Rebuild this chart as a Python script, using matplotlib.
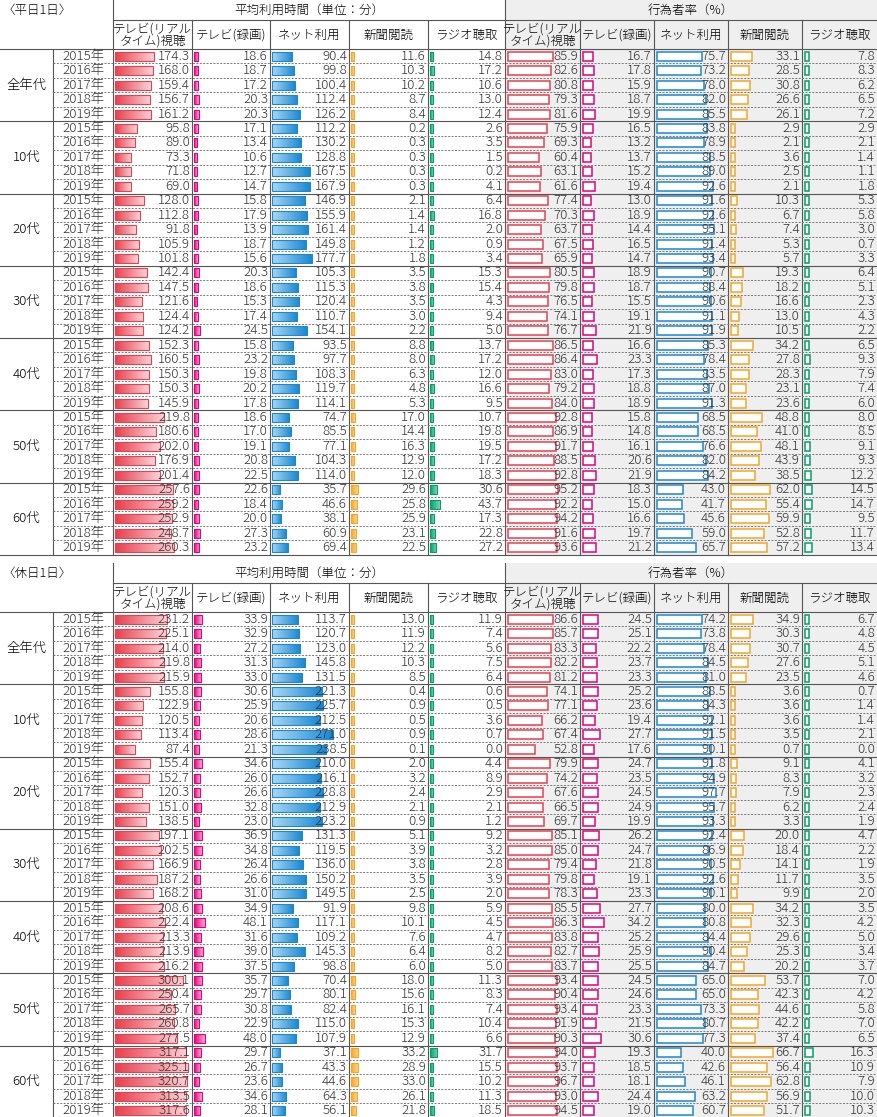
import matplotlib
matplotlib.use("Agg")
import matplotlib.pyplot as plt
import numpy as np
from matplotlib.colors import LinearSegmentedColormap

plt.rcParams["font.family"] = "Noto Sans CJK JP"
plt.rcParams["font.weight"] = 300

ages = ["全年代", "10代", "20代", "30代", "40代", "50代", "60代"]
years = ["2015年", "2016年", "2017年", "2018年", "2019年"]
metrics = ["テレビ(リアル\nタイム)視聴", "テレビ(録画)", "ネット利用", "新聞閲読", "ラジオ聴取"]

weekday_time = [
    [174.3,18.6,90.4,11.6,14.8],[168.0,18.7,99.8,10.3,17.2],[159.4,17.2,100.4,10.2,10.6],[156.7,20.3,112.4,8.7,13.0],[161.2,20.3,126.2,8.4,12.4],
    [95.8,17.1,112.2,0.2,2.6],[89.0,13.4,130.2,0.3,3.5],[73.3,10.6,128.8,0.3,1.5],[71.8,12.7,167.5,0.3,0.2],[69.0,14.7,167.9,0.3,4.1],
    [128.0,15.8,146.9,2.1,6.4],[112.8,17.9,155.9,1.4,16.8],[91.8,13.9,161.4,1.4,2.0],[105.9,18.7,149.8,1.2,0.9],[101.8,15.6,177.7,1.8,3.4],
    [142.4,20.3,105.3,3.5,15.3],[147.5,18.6,115.3,3.8,15.4],[121.6,15.3,120.4,3.5,4.3],[124.4,17.4,110.7,3.0,9.4],[124.2,24.5,154.1,2.2,5.0],
    [152.3,15.8,93.5,8.8,13.7],[160.5,23.2,97.7,8.0,17.2],[150.3,19.8,108.3,6.3,12.0],[150.3,20.2,119.7,4.8,16.6],[145.9,17.8,114.1,5.3,9.5],
    [219.8,18.6,74.7,17.0,10.7],[180.6,17.0,85.5,14.4,19.8],[202.0,19.1,77.1,16.3,19.5],[176.9,20.8,104.3,12.9,17.2],[201.4,22.5,114.0,12.0,18.3],
    [257.6,22.6,35.7,29.6,30.6],[259.2,18.4,46.6,25.8,43.7],[252.9,20.0,38.1,25.9,17.3],[248.7,27.3,60.9,23.1,22.8],[260.3,23.2,69.4,22.5,27.2],
]
weekday_rate = [
    [85.9,16.7,75.7,33.1,7.8],[82.6,17.8,73.2,28.5,8.3],[80.8,15.9,78.0,30.8,6.2],[79.3,18.7,82.0,26.6,6.5],[81.6,19.9,85.5,26.1,7.2],
    [75.9,16.5,83.8,2.9,2.9],[69.3,13.2,78.9,2.1,2.1],[60.4,13.7,88.5,3.6,1.4],[63.1,15.2,89.0,2.5,1.1],[61.6,19.4,92.6,2.1,1.8],
    [77.4,13.0,91.6,10.3,5.3],[70.3,18.9,92.6,6.7,5.8],[63.7,14.4,95.1,7.4,3.0],[67.5,16.5,91.4,5.3,0.7],[65.9,14.7,93.4,5.7,3.3],
    [80.5,18.9,90.7,19.3,6.4],[79.8,18.7,88.4,18.2,5.1],[76.5,15.5,90.6,16.6,2.3],[74.1,19.1,91.1,13.0,4.3],[76.7,21.9,91.9,10.5,2.2],
    [86.5,16.6,85.3,34.2,6.5],[86.4,23.3,78.4,27.8,9.3],[83.0,17.3,83.5,28.3,7.9],[79.2,18.8,87.0,23.1,7.4],[84.0,18.9,91.3,23.6,6.0],
    [92.8,15.8,68.5,48.8,8.0],[86.9,14.8,68.5,41.0,8.5],[91.7,16.1,76.6,48.1,9.1],[88.5,20.6,82.0,43.9,9.3],[92.8,21.9,84.2,38.5,12.2],
    [95.2,18.3,43.0,62.0,14.5],[92.2,15.0,41.7,55.4,14.7],[94.2,16.6,45.6,59.9,9.5],[91.6,19.7,59.0,52.8,11.7],[93.6,21.2,65.7,57.2,13.4],
]
holiday_time = [
    [231.2,33.9,113.7,13.0,11.9],[225.1,32.9,120.7,11.9,7.4],[214.0,27.2,123.0,12.2,5.6],[219.8,31.3,145.8,10.3,7.5],[215.9,33.0,131.5,8.5,6.4],
    [155.8,30.6,221.3,0.4,0.6],[122.9,25.9,225.7,0.9,0.5],[120.5,20.6,212.5,0.5,3.6],[113.4,28.6,271.0,0.9,0.7],[87.4,21.3,238.5,0.1,0.0],
    [155.4,34.6,210.0,2.0,4.4],[152.7,26.0,216.1,3.2,8.9],[120.3,26.6,228.8,2.4,2.9],[151.0,32.8,212.9,2.1,2.1],[138.5,23.0,223.2,0.9,1.2],
    [197.1,36.9,131.3,5.1,9.2],[202.5,34.8,119.5,3.9,3.2],[166.9,26.4,136.0,3.8,2.8],[187.2,26.6,150.2,3.5,3.9],[168.2,31.0,149.5,2.5,2.0],
    [208.6,34.9,91.9,9.8,5.9],[222.4,48.1,117.1,10.1,4.5],[213.3,31.6,109.2,7.6,4.7],[213.9,39.0,145.3,6.4,8.2],[216.2,37.5,98.8,6.0,5.0],
    [300.1,35.7,70.4,18.0,11.3],[250.4,29.7,80.1,15.6,8.3],[265.7,30.8,82.4,16.1,7.4],[260.8,22.9,115.0,15.3,10.4],[277.5,48.0,107.9,12.9,6.6],
    [317.1,29.7,37.1,33.2,31.7],[325.1,26.7,43.3,28.9,15.5],[320.7,23.6,44.6,33.0,10.2],[313.5,34.6,64.3,26.1,11.3],[317.6,28.1,56.1,21.8,18.5],
]
holiday_rate = [
    [86.6,24.5,74.2,34.9,6.7],[85.7,25.1,73.8,30.3,4.8],[83.3,22.2,78.4,30.7,4.5],[82.2,23.7,84.5,27.6,5.1],[81.2,23.3,81.0,23.5,4.6],
    [74.1,25.2,88.5,3.6,0.7],[77.1,23.6,84.3,3.6,1.4],[66.2,19.4,92.1,3.6,1.4],[67.4,27.7,91.5,3.5,2.1],[52.8,17.6,90.1,0.7,0.0],
    [79.9,24.7,91.8,9.1,4.1],[74.2,23.5,94.9,8.3,3.2],[67.6,24.5,97.7,7.9,2.3],[66.5,24.9,95.7,6.2,2.4],[69.7,19.9,93.3,3.3,1.9],
    [85.1,26.2,92.4,20.0,4.7],[85.0,24.7,86.9,18.4,2.2],[79.4,21.8,90.5,14.1,1.9],[79.8,19.1,92.6,11.7,3.5],[78.3,23.3,90.1,9.9,2.0],
    [85.5,27.7,80.0,34.2,3.5],[86.3,34.2,80.8,32.3,4.2],[83.8,25.2,84.4,29.6,5.0],[82.7,25.9,90.4,25.3,3.4],[83.7,25.5,84.7,20.2,3.7],
    [93.4,24.5,65.0,53.7,7.0],[90.4,24.6,65.0,42.3,4.2],[93.4,23.3,73.3,44.6,5.8],[91.9,21.5,80.7,42.2,7.0],[90.3,30.6,77.3,37.4,6.5],
    [94.0,19.3,40.0,66.7,16.3],[93.7,18.5,42.6,56.4,10.9],[96.7,18.1,46.1,62.8,7.9],[93.0,24.4,63.2,56.9,10.0],[94.5,19.0,60.7,51.7,10.3],
]

colors = ["#e8404f", "#e4007f", "#1b88d2", "#f5a623", "#00a06a"]
light = ["#fbd3d8", "#f7a6cf", "#a9d8f5", "#fbd48a", "#7fd2b3"]
X = [0, 53, 113, 192, 270, 349, 428, 505, 580, 654, 728, 802, 877]
TSCALE = 0.225
RSCALE = [0.52, 0.6, 0.6, 0.63, 0.5]
ROWH = 14.45
FS = 9.6
HFS = 9.0
LC = "#555555"

fig = plt.figure(figsize=(8.77, 11.17), dpi=100)
ax = fig.add_axes([0, 0, 1, 1])
ax.axis("off")


def panel(y0, title, tdata, rdata):
    yh = y0 + 20
    yd = y0 + 49
    yend = yd + 35 * ROWH
    ax.add_patch(plt.Rectangle((X[7], y0), X[12] - X[7], yend - y0, fc="#efefef", ec="none", zorder=0))
    ax.text(2, y0 + 10, title, fontsize=HFS, va="center", ha="left")
    ax.text((X[2] + X[7]) / 2, y0 + 10, "平均利用時間（単位：分）", fontsize=HFS, ha="center", va="center")
    ax.text((X[7] + X[12]) / 2, y0 + 10, "行為者率（%）", fontsize=HFS, ha="center", va="center")
    ax.plot([X[2], X[12]], [yh, yh], color=LC, lw=0.8)
    ax.plot([0, X[12]], [yd, yd], color=LC, lw=0.8)
    ax.plot([0, X[12]], [yend, yend], color=LC, lw=0.8)
    ax.plot([X[2], X[2]], [y0, yend], color=LC, lw=0.8)
    ax.plot([X[7], X[7]], [y0, yend], color=LC, lw=0.8)
    for k in range(10):
        xc = (X[2 + k] + X[3 + k]) / 2
        ax.text(xc, (yh + yd) / 2 + 0.5, metrics[k % 5], fontsize=HFS, ha="center", va="center", linespacing=0.95)
        if k not in (0, 5):
            ax.plot([X[2 + k]] * 2, [yh, yend], color=LC, lw=0.8)
    ax.plot([X[1]] * 2, [yd, yend], color=LC, lw=0.8)
    for g, age in enumerate(ages):
        gy = yd + g * 5 * ROWH
        ax.text(X[1] / 2, gy + 2.5 * ROWH, age, fontsize=FS, ha="center", va="center")
        if g > 0:
            ax.plot([0, X[12]], [gy, gy], color=LC, lw=0.8)
        for j in range(1, 5):
            ax.plot([X[1], X[12]], [gy + j * ROWH] * 2, color="#777777", lw=0.7, ls=(0, (2, 1.5)))
    rows = np.arange(35)
    yc = yd + (rows + 0.5) * ROWH
    for i in rows:
        ax.text(X[2] - 8, yc[i], years[i % 5], fontsize=FS, ha="right", va="center", color="#333333")
    bh = 9
    for k in range(5):
        vals = np.array([r[k] for r in tdata])
        x0 = X[2 + k] + 2
        w = np.maximum(vals * TSCALE, 2.5)
        bars = ax.barh(yc, w, left=x0, height=bh, fc="none", ec=colors[k], lw=0.8, zorder=3)
        cmap = LinearSegmentedColormap.from_list("g", [colors[k], light[k]] if k != 2 else [light[k], colors[k]])
        grad = np.linspace(0, 1, 64).reshape(1, -1)
        for p, yy, ww in zip(bars.patches, yc, w):
            im = ax.imshow(grad, cmap=cmap, extent=[x0, x0 + ww, yy + bh / 2, yy - bh / 2], aspect="auto", zorder=2)
            im.set_clip_path(p)
        for yy, v in zip(yc, vals):
            ax.text(X[3 + k] - 2, yy, f"{v:.1f}", fontsize=FS, ha="right", va="center", color="#333333", zorder=4)
        vals_r = np.array([r[k] for r in rdata])
        x1 = X[7 + k] + 3
        wr = np.maximum(vals_r * RSCALE[k], 3.5)
        ax.barh(yc, wr, left=x1, height=bh, fc="white", ec=colors[k], lw=1.1, zorder=3)
        for yy, v in zip(yc, vals_r):
            ax.text(X[8 + k] - 2, yy, f"{v:.1f}", fontsize=FS, ha="right", va="center", color="#333333", zorder=4)


panel(0, "〈平日1日〉", weekday_time, weekday_rate)
panel(563, "〈休日1日〉", holiday_time, holiday_rate)
ax.set_xlim(0, 877)
ax.set_ylim(1117, 0)
fig.savefig("out.png", dpi=100)
